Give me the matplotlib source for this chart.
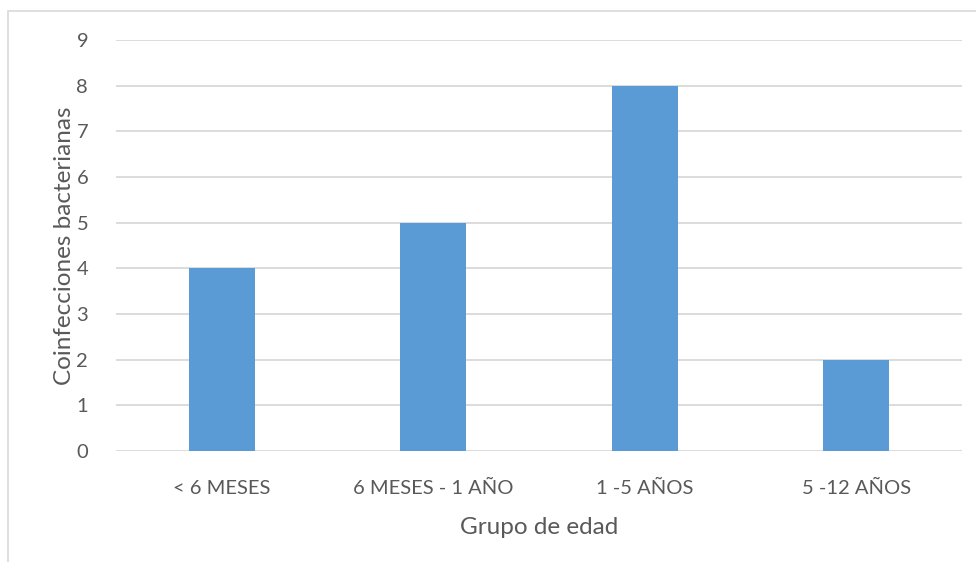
import matplotlib.pyplot as plt
from matplotlib.patches import Rectangle

categorias = ["< 6 MESES", "6 MESES - 1 AÑO", "1 -5 AÑOS", "5 -12 AÑOS"]
coinfecciones = [4, 5, 8, 2]
ticks_y = list(range(0, 10))

texto = "#595959"
rejilla = "#D9D9D9"
azul = "#5B9BD5"

plt.rcParams["font.family"] = ["Lato", "DejaVu Sans"]

fig = plt.figure(figsize=(9.76, 5.62), dpi=100)
W, H = 976, 562

# chart area border (runs off the right and bottom edges)
fig.patches.append(Rectangle((8 / W, -0.1), 1.2, 1 - 11 / H + 0.1,
                             transform=fig.transFigure, fill=False,
                             edgecolor="#D9D9D9", linewidth=1.2))

ax = fig.add_axes([116 / W, 1 - 451 / H, 846 / W, 411 / H])
x = range(len(categorias))
ax.bar(x, coinfecciones, width=0.31, color=azul, zorder=3)

ax.set_xlim(-0.5, len(categorias) - 0.5)
ax.set_ylim(0, 9)
ax.set_yticks(ticks_y)
ax.set_xticks(list(x))
ax.set_xticklabels(categorias)
ax.grid(axis="y", color=rejilla, linewidth=1.3, zorder=0)
ax.tick_params(axis="both", length=0, labelsize=14.5, colors=texto)
ax.tick_params(axis="x", pad=21)
ax.tick_params(axis="y", pad=20)
for s in ax.spines.values():
    s.set_visible(False)

ax.set_xlabel("Grupo de edad", fontsize=17.5, color=texto, labelpad=14)
ax.set_ylabel("Coinfecciones bacterianas", fontsize=17.5, color=texto,
              labelpad=1)

fig.savefig("out.png", dpi=100)
